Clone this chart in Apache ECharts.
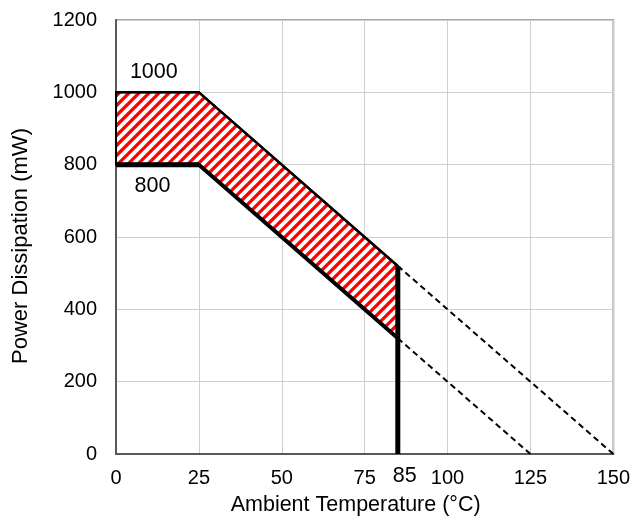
<!DOCTYPE html>
<html>
<head>
<meta charset="utf-8">
<script src="https://cdn.jsdelivr.net/npm/echarts@6/dist/echarts.min.js"></script>
<style>html,body{margin:0;padding:0;background:#fff;}#c{width:633px;height:523px;}</style>
</head>
<body>
<div id="c"></div>
<script>
// ---- data ----
const bandX = [0, 25, 85];
const upperY = [1000, 1000, 520];
const lowerY = [800, 800, 320];
const lowerFlatX = [0, 25];
const lowerFlatY = [800, 800];
const upperExtX = [85, 150];
const upperExtY = [520, 0];
const lowerExtX = [85, 125];
const lowerExtY = [320, 0];
const verticalX = [85, 85];
const verticalY = [0, 520];
const annotText = ['1000', '800', '85'];
const annotX = [11.4, 11.0, 87.1];
const annotY = [1056, 740, -60];
const xTicks = [0, 25, 50, 75, 100, 125, 150];
const yTicks = [0, 200, 400, 600, 800, 1000, 1200];

const pair = (xs, ys) => xs.map((x, i) => [x, ys[i]]);
const bandPoly = pair(bandX, upperY).concat(pair(bandX, lowerY).reverse());

// diagonal hatch lines clipped to a polygon (pixel space)
function hatchLines(pts, period) {
  const sums = pts.map(p => p[0] + p[1]);
  const lo = Math.min.apply(null, sums), hi = Math.max.apply(null, sums);
  const out = [];
  for (let c = Math.ceil(lo / period) * period + 2; c < hi; c += period) {
    const xs = [];
    for (let i = 0; i < pts.length; i++) {
      const p = pts[i], q = pts[(i + 1) % pts.length];
      const fp = p[0] + p[1] - c, fq = q[0] + q[1] - c;
      if ((fp < 0 && fq >= 0) || (fp >= 0 && fq < 0)) {
        const t = fp / (fp - fq);
        xs.push(p[0] + t * (q[0] - p[0]));
      }
    }
    xs.sort((a, b) => a - b);
    for (let k = 0; k + 1 < xs.length; k += 2) {
      out.push({type: 'line', shape: {x1: xs[k], y1: c - xs[k], x2: xs[k + 1], y2: c - xs[k + 1]},
        style: {stroke: '#ff0000', lineWidth: 3.3}});
    }
  }
  return out;
}

const font = 'Liberation Sans, Arial, sans-serif';
const chart = echarts.init(document.getElementById('c'), null, {renderer: 'canvas'});
chart.setOption({
  animation: false,
  backgroundColor: '#fff',
  grid: {left: 116, right: 16, top: 20, bottom: 69, show: true, borderColor: '#a6a6a6', borderWidth: 2},
  xAxis: {
    type: 'value', min: xTicks[0], max: xTicks[xTicks.length - 1], interval: 25,
    name: 'Ambient Temperature (°C)', nameLocation: 'middle', nameGap: 40,
    nameTextStyle: {fontFamily: font, fontSize: 21.5, color: '#000', padding: [0, 18, 0, 0]},
    axisLine: {show: true, lineStyle: {color: '#595959', width: 2}},
    axisTick: {show: false},
    axisLabel: {fontFamily: font, fontSize: 20, color: '#000', margin: 14},
    splitLine: {show: true, lineStyle: {color: '#cfcfcf', width: 1}}
  },
  yAxis: {
    type: 'value', min: yTicks[0], max: yTicks[yTicks.length - 1], interval: 200,
    name: 'Power Dissipation (mW)', nameLocation: 'middle', nameGap: 84,
    nameTextStyle: {fontFamily: font, fontSize: 22, color: '#000', padding: [0, 18, 0, 0]},
    axisLine: {show: true, lineStyle: {color: '#595959', width: 2}},
    axisTick: {show: false},
    axisLabel: {fontFamily: font, fontSize: 20, color: '#000', margin: 19, formatter: v => String(v)},
    splitLine: {show: true, lineStyle: {color: '#cfcfcf', width: 1}}
  },
  series: [
    {
      type: 'custom',
      renderItem: function (params, api) {
        const pts = bandPoly.map(p => api.coord(p));
        const children = [{type: 'polygon', shape: {points: pts}, style: {fill: '#fff'}}]
          .concat(hatchLines(pts, 10))
          .concat([{type: 'polygon', shape: {points: pts}, style: {fill: null, stroke: '#000', lineWidth: 2}}]);
        return {type: 'group', children: children};
      },
      data: [[0, 0]],
      z: 2,
      silent: true
    },
    {type: 'line', data: pair(bandX, upperY), symbol: 'none', lineStyle: {color: '#000', width: 2.5}, z: 3},
    {type: 'line', data: pair(bandX, lowerY), symbol: 'none', lineStyle: {color: '#000', width: 4}, z: 3},
    {type: 'line', data: pair(lowerFlatX, lowerFlatY), symbol: 'none', lineStyle: {color: '#000', width: 5}, z: 3},
    {type: 'line', data: pair(upperExtX, upperExtY), symbol: 'none', lineStyle: {color: '#000', width: 2, type: [6, 4]}, z: 3},
    {type: 'line', data: pair(lowerExtX, lowerExtY), symbol: 'none', lineStyle: {color: '#000', width: 2, type: [6, 4]}, z: 3},
    {type: 'line', data: pair(verticalX, verticalY), symbol: 'none', lineStyle: {color: '#000', width: 5}, z: 4},
    {
      type: 'custom', z: 5, silent: true, clip: false,
      data: annotText.map((t, i) => [annotX[i], annotY[i], i]),
      renderItem: function (params, api) {
        const p = api.coord([api.value(0), api.value(1)]);
        return {
          type: 'text', x: p[0], y: p[1],
          style: {text: annotText[api.value(2)], fill: '#000', fontFamily: font, fontSize: 21.5,
            align: 'center', verticalAlign: 'middle'}
        };
      }
    }
  ]
});
</script>
</body>
</html>
